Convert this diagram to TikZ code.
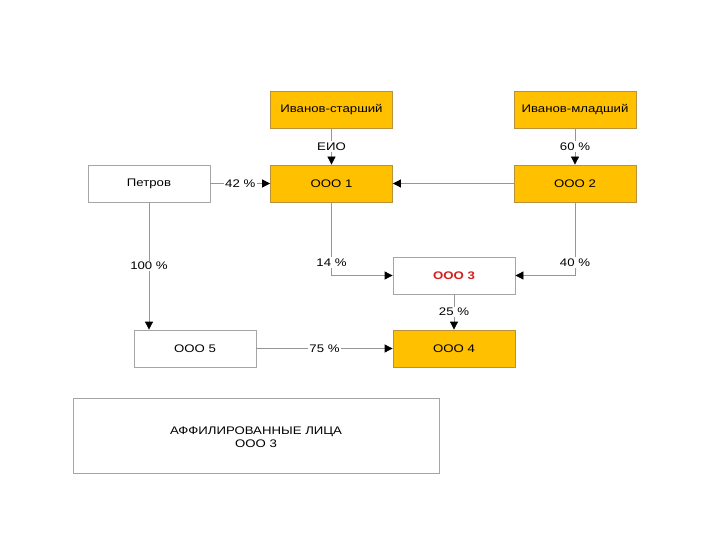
\documentclass[tikz,border=0pt]{standalone}
\usepackage{fontspec}
\setmainfont{Liberation Sans}[FakeStretch=1.2]
\usetikzlibrary{arrows.meta}
\definecolor{orfill}{RGB}{255,192,0}
\definecolor{ordraw}{RGB}{185,145,60}
\definecolor{lncol}{RGB}{150,150,150}
\definecolor{wbdraw}{RGB}{165,165,165}
\definecolor{redtxt}{RGB}{215,30,30}
\tikzset{
  base/.style={minimum width=122pt, minimum height=37pt, inner sep=0pt, line width=0.8pt,
    font=\fontsize{11}{13}\selectfont},
  obox/.style={base, fill=orfill, draw=ordraw},
  wbox/.style={base, fill=white, draw=wbdraw},
  conn/.style={draw=lncol, line width=0.8pt, -{Triangle[length=8pt,width=8pt,fill=black,color=black]}},
  lbl/.style={fill=white, inner sep=1.5pt, font=\fontsize{11}{13}\selectfont}
}
\begin{document}
\begin{tikzpicture}[x=1pt,y=-1pt]
\useasboundingbox (0,0) rectangle (720,540);
\node[obox] (ivs) at (331.5,109.5) {Иванов-старший};
\node[obox] (ivm) at (575,109.5) {Иванов-младший};
\node[wbox] (pet) at (149,183.5) {Петров};
\node[obox] (o1) at (331.5,183.5) {ООО 1};
\node[obox] (o2) at (575,183.5) {ООО 2};
\node[wbox, text=redtxt, font=\fontsize{11}{13}\selectfont\bfseries] (o3) at (454,275.5) {ООО 3};
\node[wbox, minimum width=122pt] (o5) at (195,348.5) {ООО 5};
\node[obox] (o4) at (454,348.5) {ООО 4};
\node[wbox, minimum width=366pt, minimum height=75pt] (big) at (256,435.5) {};
\node[align=center, inner sep=0pt, font=\fontsize{11}{13.3}\selectfont] (bigtxt) at (256,437) {АФФИЛИРОВАННЫЕ ЛИЦА\\ООО 3};

\draw[conn] (ivs) -- node[lbl] {ЕИО} (o1);
\draw[conn] (ivm) -- node[lbl] {60 \%} (o2);
\draw[conn] (pet) -- node[lbl] {42 \%} (o1);
\draw[conn] (o2) -- (o1);
\draw[conn] (o1.south) |- node[lbl, pos=0.41] {14 \%} (o3.west);
\draw[conn] (o2.south) |- node[lbl, pos=0.41] {40 \%} (o3.east);
\draw[conn] (pet.south) -- node[lbl] {100 \%} (pet.south |- o5.north);
\draw[conn] (o3) -- node[lbl] {25 \%} (o4);
\draw[conn] (o5) -- node[lbl] {75 \%} (o4);
\end{tikzpicture}
\end{document}
